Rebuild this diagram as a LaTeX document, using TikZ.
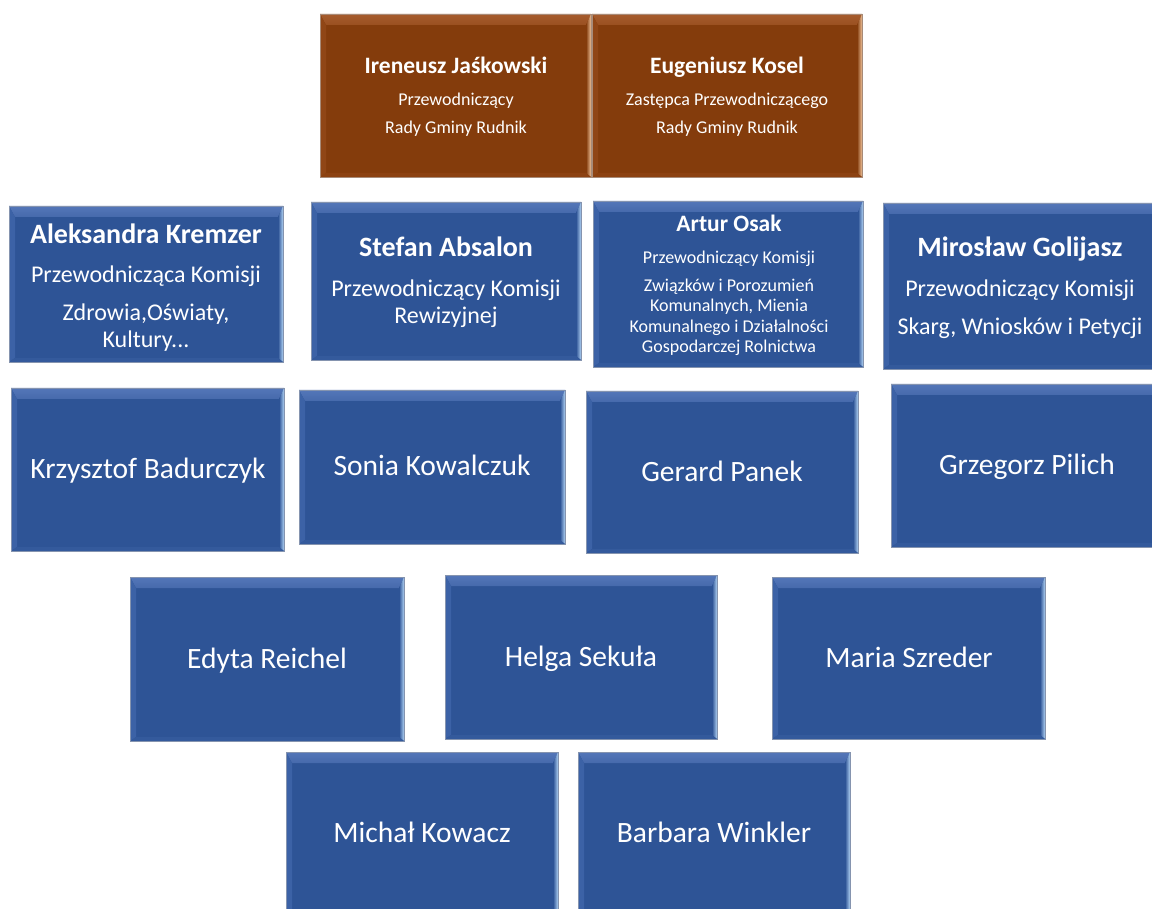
\documentclass[tikz,border=0pt]{standalone}
\usepackage{fontspec}
\setmainfont{Carlito}
\definecolor{bmain}{RGB}{46,84,150}
\definecolor{btop}{RGB}{84,118,184}
\definecolor{bhi}{RGB}{146,176,230}
\definecolor{bbel}{RGB}{70,106,172}
\definecolor{bleft}{RGB}{60,98,166}
\definecolor{bright}{RGB}{176,210,244}
\definecolor{bbot}{RGB}{52,90,156}
\definecolor{rmain}{RGB}{132,60,12}
\definecolor{rtop}{RGB}{166,92,46}
\definecolor{rhi}{RGB}{214,152,110}
\definecolor{rbel}{RGB}{154,80,32}
\definecolor{rleft}{RGB}{144,70,22}
\definecolor{rright}{RGB}{240,196,156}
\definecolor{rbot}{RGB}{140,66,18}
\def\bvl{6}\def\bvt{11}\def\bvr{5}\def\bvb{4}
\newcommand\bevbox[6]{%
 \node[boxnode, fill=#6main, minimum width={(#4-#2)*1pt}, minimum height={(#5-#3)*1pt}] (#1) at ({(#2+#4)/2},{(#3+#5)/2}) {};
 \shade[top color=#6top, middle color=#6hi, bottom color=#6bel] (#1.north west) -- (#1.north east) -- ([shift={(-\bvr,\bvt)}]#1.north east) -- ([shift={(\bvl,\bvt)}]#1.north west) -- cycle;
 \fill[#6left] (#1.north west) -- ([shift={(\bvl,\bvt)}]#1.north west) -- ([shift={(\bvl,-\bvb)}]#1.south west) -- (#1.south west) -- cycle;
 \shade[left color=#6main, right color=#6right] (#1.north east) -- ([shift={(-\bvr,\bvt)}]#1.north east) -- ([shift={(-\bvr,-\bvb)}]#1.south east) -- (#1.south east) -- cycle;
 \fill[#6bot] (#1.south west) -- ([shift={(\bvl,-\bvb)}]#1.south west) -- ([shift={(-\bvr,-\bvb)}]#1.south east) -- (#1.south east) -- cycle;
 \draw[black!25!white!60!#6main, line width=0.8pt] (#1.north west) rectangle (#1.south east);
}
\tikzset{
 boxnode/.style={rectangle, inner sep=0pt, outer sep=0pt, draw=none},
 txt/.style={text=white, inner sep=0pt, anchor=base},
 big/.style={txt, font=\fontsize{29.5}{34}\selectfont},
 bname/.style={txt, font=\bfseries\fontsize{28}{32}\selectfont},
 bsub/.style={txt, font=\fontsize{24}{28}\selectfont},
 sname/.style={txt, font=\bfseries\fontsize{23.5}{27}\selectfont},
 ssub/.style={txt, font=\fontsize{18}{21}\selectfont},
}
\begin{document}
\begin{tikzpicture}[x=1pt,y=-1pt]
\useasboundingbox (0,0) rectangle (1152,909);
\fill[white] (0,0) rectangle (1152,909);
% top brown
\bevbox{jas}{320}{14}{591}{177}{r}
\bevbox{kos}{592}{14}{862}{177}{r}
\node[sname] (jasn) at (456,74) {Ireneusz Jaśkowski};
\node[ssub] (jass1) at (456,106) {Przewodniczący};
\node[ssub] (jass2) at (456,134) {Rady Gminy Rudnik};
\node[sname] (kosn) at (727,74) {Eugeniusz Kosel};
\node[ssub] (koss1) at (727,106) {Zastępca Przewodniczącego};
\node[ssub] (koss2) at (727,134) {Rady Gminy Rudnik};
% row 2
\bevbox{kre}{9}{206}{283}{362}{b}
\bevbox{abs}{311}{202}{581}{360}{b}
\bevbox{osa}{593}{201}{863}{367}{b}
\bevbox{gol}{883}{203}{1157}{369}{b}
\node[bname] (kren) at (146,244) {Aleksandra Kremzer};
\node[bsub] (kres1) at (146,283) {Przewodnicząca Komisji};
\node[bsub] (kres2) at (146,321) {Zdrowia,Oświaty,};
\node[bsub] (kres3) at (146,348) {Kultury...};
\node[bname] (absn) at (446,257) {Stefan Absalon};
\node[bsub] (abss1) at (446,297) {Przewodniczący Komisji};
\node[bsub] (abss2) at (446,324) {Rewizyjnej};
\node[txt, font=\bfseries\fontsize{23.5}{27}\selectfont] (osan) at (729,232) {Artur Osak};
\node[ssub] (osas1) at (729,264) {Przewodniczący Komisji};
\node[ssub] (osas2) at (729,292) {Związków i Porozumień};
\node[ssub] (osas3) at (729,312) {Komunalnych, Mienia};
\node[ssub] (osas4) at (729,333) {Komunalnego i Działalności};
\node[ssub] (osas5) at (729,353) {Gospodarczej Rolnictwa};
\node[bname] (goln) at (1020,257) {Mirosław Golijasz};
\node[bsub] (gols1) at (1020,297) {Przewodniczący Komisji};
\node[bsub] (gols2) at (1020,335) {Skarg, Wniosków i Petycji};
% row 3
\bevbox{bad}{11}{388}{284}{551}{b}
\bevbox{kow}{299}{390}{565}{544}{b}
\bevbox{pan}{586}{391}{858}{553}{b}
\bevbox{pil}{891}{384}{1163}{547}{b}
\node[big] (badn) at (148,478) {Krzysztof Badurczyk};
\node[big] (kown) at (432,475) {Sonia Kowalczuk};
\node[big] (pann) at (722,481) {Gerard Panek};
\node[big] (piln) at (1027,474) {Grzegorz Pilich};
% row 4
\bevbox{rei}{130}{577}{404}{741}{b}
\bevbox{sek}{445}{575}{717}{739}{b}
\bevbox{szr}{772}{577}{1045}{739}{b}
\node[big] (rein) at (267,668) {Edyta Reichel};
\node[big] (sekn) at (581,666) {Helga Sekuła};
\node[big] (szrn) at (909,667) {Maria Szreder};
% row 5
\bevbox{mic}{286}{752}{558}{915}{b}
\bevbox{win}{578}{752}{850}{915}{b}
\node[big] (micn) at (422,842) {Michał Kowacz};
\node[big] (winn) at (714,842) {Barbara Winkler};
\end{tikzpicture}
\end{document}
